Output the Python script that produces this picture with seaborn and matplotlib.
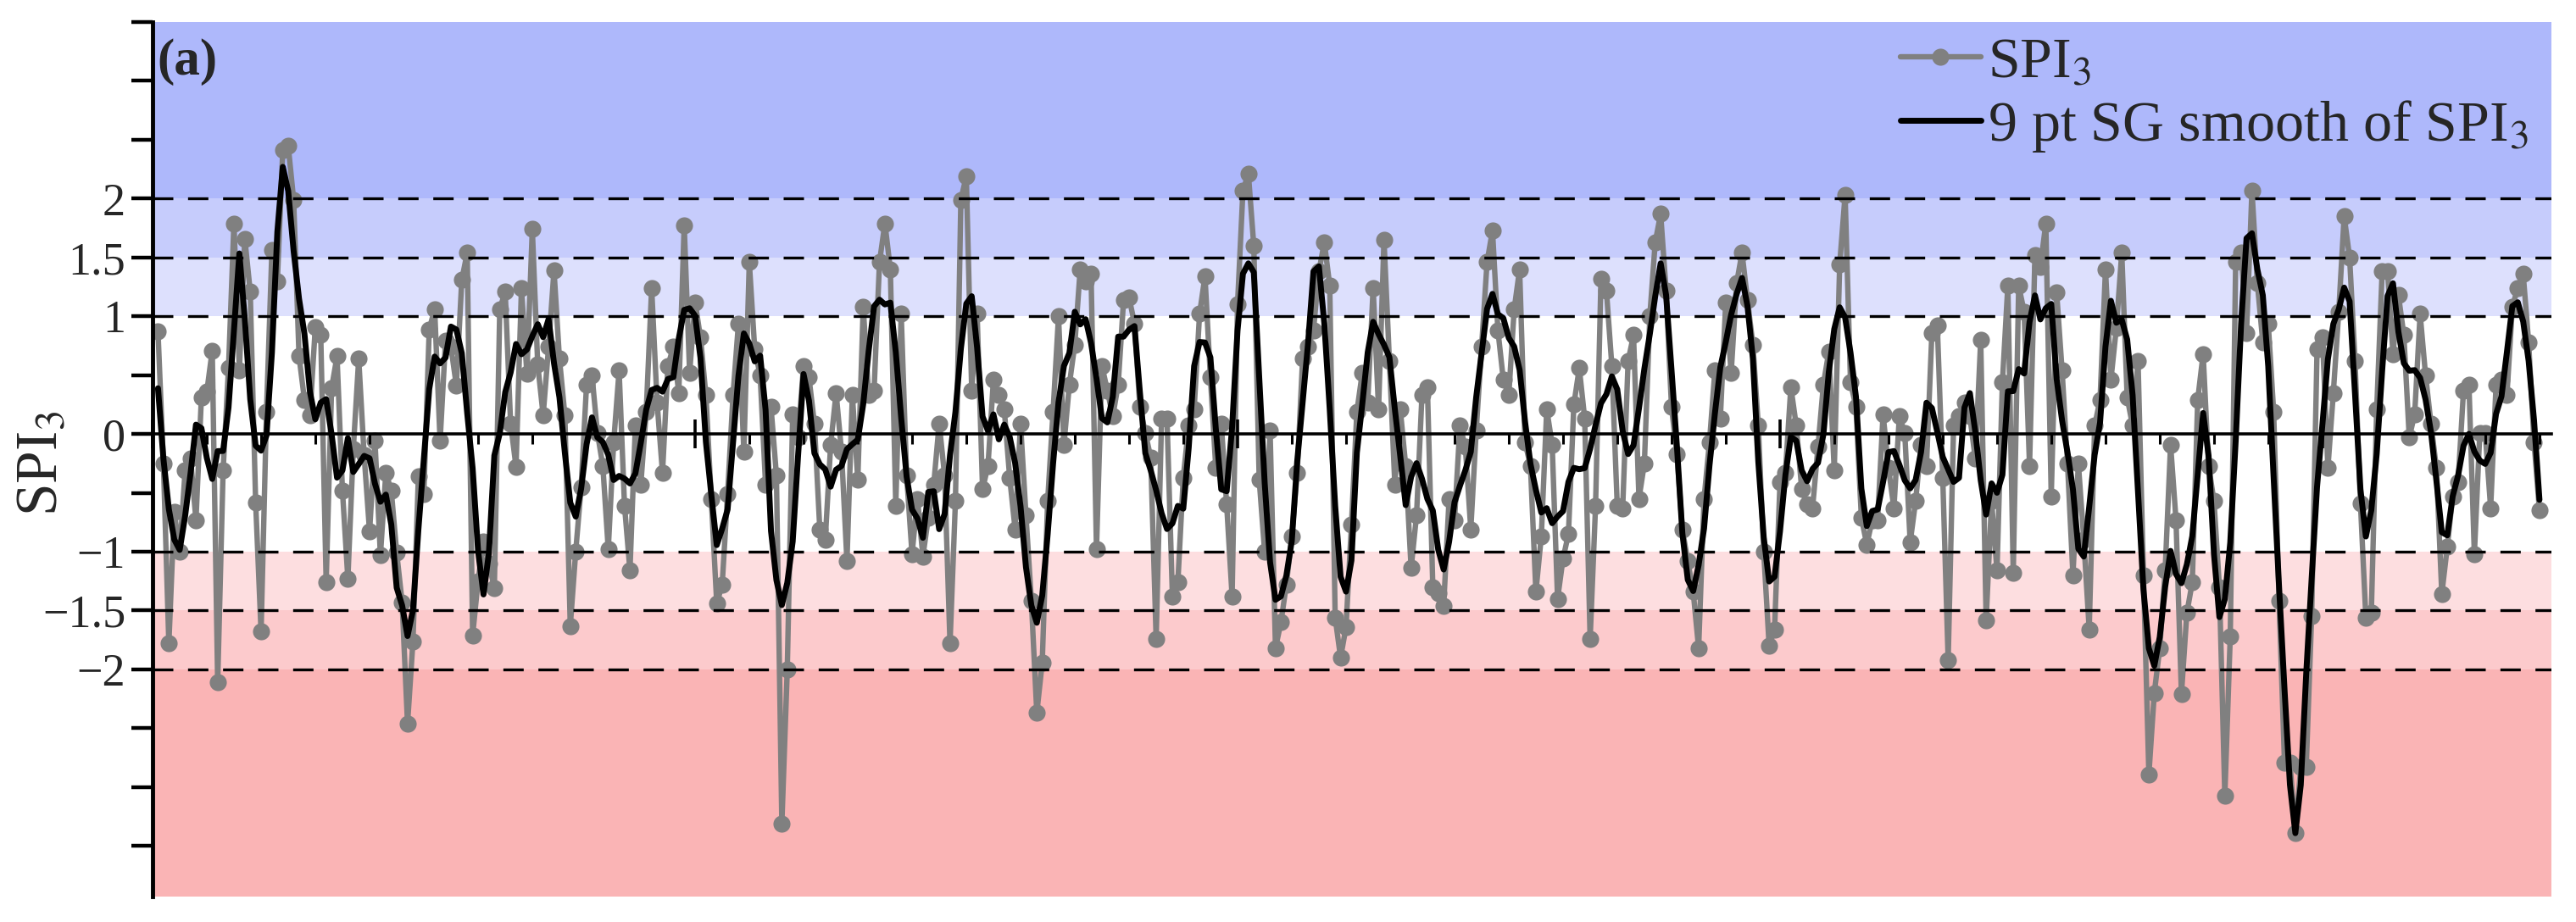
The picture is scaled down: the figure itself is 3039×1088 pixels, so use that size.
import numpy as np
import pandas as pd
import matplotlib
matplotlib.use("Agg")
import matplotlib.pyplot as plt
from matplotlib.ticker import MultipleLocator, FixedLocator, FixedFormatter
import seaborn as sns

# ---------------- data ----------------
spi3_part1 = [0.87, -0.25, -1.78, -0.66, -1.0, -0.31, -0.21, -0.73, 0.31, 0.36,
              0.71, -2.11, -0.31, 0.56, 1.79, 0.54, 1.66, 1.21, -0.58, -1.68,
              0.19, 1.56, 1.3, 2.41, 2.45, 1.99, 0.66, 0.29, 0.16, 0.91,
              0.84, -1.26, 0.39, 0.66, -0.48, -1.23, -0.13, 0.64, -0.18, -0.83,
              -0.06, -1.03, -0.33, -0.48, -1.01, -1.43, -2.46, -1.76, -0.36, -0.51,
              0.89, 1.06, -0.06, 0.79, 0.74, 0.41, 1.31, 1.54, -1.71, -1.25,
              -0.91, -1.1, -1.31, 1.06, 1.21, 0.09, -0.28, 1.24, 0.51, 1.74,
              0.59, 0.16, 0.74, 1.39, 0.64, 0.16, -1.63]
spi3_part2 = [-1.0, -0.45, 0.42, 0.5, 0.01, -0.27, -0.98, -0.07, 0.54, -0.61,
              -1.16, 0.07, -0.43, 0.19, 1.24, 0.27, -0.33, 0.58, 0.74, 0.35,
              1.77, 0.52, 1.12, 0.82, 0.33, -0.55, -1.44, -1.28, -0.51, 0.33,
              0.94, -0.15, 1.46]
spi3_part3 = [0.72, 0.5, -0.43, 0.23, -0.35, -3.31, -2.0, 0.17, -0.03, 0.58,
              0.48, 0.09, -0.81, -0.9, -0.09, 0.35, -0.15, -1.08, 0.33, -0.39,
              1.08, 0.33, 0.37, 1.46, 1.79, 1.4, -0.61, 1.02, -0.35, -1.02,
              -0.55, -1.04, -0.71, -0.43, 0.09, -0.35, -1.78, -0.57, 1.99, 2.19,
              0.37, 1.02, -0.47, -0.27, 0.46, 0.33, 0.21, -0.37, -0.81, 0.09,
              -0.69, -1.42, -2.37, -1.94, -0.57, 0.19, 1.0]
spi3_part4 = [-0.09, 0.42, 0.76, 1.4, 1.3, 1.36, -0.98, 0.58, 0.37, 0.15,
              0.42, 1.14, 1.16, 0.94, 0.23, 0.01, -0.2, -1.74, 0.13, 0.13,
              -1.38, -1.26, -0.37, 0.07, 0.21, 1.02, 1.34, 0.48, -0.29, 0.09,
              -0.6, -1.38, 1.1, 2.07, 2.21, 1.6, -0.39, -1.0, 0.03, -1.82,
              -1.6, -1.28, -0.87, -0.33, 0.64, 0.74, 0.88, 1.38, 1.63, 1.26,
              -1.56, -1.9, -1.64, -0.77, 0.19, 0.52, 0.27, 1.24]
spi3_part5 = [0.21, 1.65, 0.62, -0.43, 0.21, -0.27, -1.14, -0.69, 0.33, 0.4,
              -1.3, -1.35, -1.46, -0.55, -0.73, 0.07, -0.11, -0.81, 0.03, 0.74,
              1.46, 1.73, 0.88, 0.46, 0.33, 1.06, 1.4, -0.07, -0.27, -1.34,
              -0.87, 0.21, -0.09, -1.4, -1.06, -0.85, 0.25, 0.56, 0.13, -1.74,
              -0.61, 1.32, 1.22, 0.58, -0.61, -0.63, 0.62, 0.84, -0.55, -0.25,
              1.0, 1.63, 1.87, 1.22, 0.23, -0.17, -0.81, -1.08, -1.34]
spi3_part6 = [-1.82, -0.55, -0.07, 0.54, 0.13, 1.12, 0.52, 1.28, 1.54, 1.14,
              0.76, 0.07, -1.0, -1.8, -1.66, -0.41, -0.33, 0.4, 0.07, -0.47,
              -0.6, -0.63, -0.11, 0.42, 0.7, -0.31, 1.44, 2.03, 0.44, 0.23,
              -0.71, -0.94, -0.73, -0.73, 0.17, -0.29, -0.63, 0.15, 0.01, -0.92,
              -0.57, -0.09, -0.27, 0.86, 0.92, -0.37, -1.92, 0.07, 0.15, 0.27,
              0.15, -0.21, 0.8, -1.58, -0.57, -1.16, 0.44, 1.26]
spi3_part7 = [-1.18, 1.26, 1.04, -0.27, 1.52, 1.42, 1.79, -0.53, 1.2, 0.54,
              -0.25, -1.2, -0.25, -0.9, -1.66, 0.07, 0.29, 1.4, 0.46, 0.9,
              1.54, 0.31, 0.07, 0.62, -1.2, -2.89, -2.2, -1.82, -1.16, -0.09,
              -0.73, -2.21, -1.52, -1.26, 0.29, 0.68, -0.27, -0.57, -1.3, -3.07,
              -1.72, 1.46, 1.54, 0.86, 2.07, 1.28, 0.78, 0.94, 0.19, -1.42,
              -2.79, -2.79, -3.39, -2.83, -2.83, -1.55, 0.72, 0.82, -0.29]
spi3_part8 = [0.35, 1.04, 1.85, 1.5, 0.62, -0.59, -1.56, -1.52, 0.21, 1.38,
              1.38, 0.68, 1.18, 0.84, -0.03, 0.17, 1.02, 0.5, 0.09, -0.29,
              -1.36, -0.96, -0.53, -0.41, 0.37, 0.42, -1.02, 0.01, 0.01, -0.63,
              0.42, 0.46, 0.33, 1.08, 1.24, 1.36, 0.78, -0.07, -0.65]

band_edges = [-1, -1.5, -2, 1, 1.5, 2]
ytick_values = [-2, -1.5, -1, 0, 1, 1.5, 2]
ytick_texts = ["\u22122", "\u22121.5", "\u22121", "0", "1", "1.5", "2"]
legend_labels = [r"SPI$_3$", r"9 pt SG smooth of SPI$_3$"]
ylabel_text = r"SPI$_3$"
panel_text = "(a)"

spi3 = np.array(spi3_part1 + spi3_part2 + spi3_part3 + spi3_part4 +
                spi3_part5 + spi3_part6 + spi3_part7 + spi3_part8)
index = np.arange(1, len(spi3) + 1)


def savgol_smooth(y, window=9, order=2):
    half = window // 2
    offs = np.arange(-half, half + 1)
    A = np.vander(offs, order + 1, increasing=True)
    coeffs = np.linalg.pinv(A)[0]
    mid = np.convolve(y, coeffs[::-1], mode="valid")
    pos = np.arange(window)
    head = np.polyval(np.polyfit(pos, y[:window], order), pos[:half])
    tail = np.polyval(np.polyfit(pos, y[-window:], order), pos[window - half:])
    return np.concatenate([head, mid, tail])


smooth = savgol_smooth(spi3)
df = pd.DataFrame({"index": index, "SPI3": spi3, "smooth": smooth})

# ---------------- style ----------------
sns.set_style("white")
plt.rcParams["font.family"] = ["Liberation Serif", "DejaVu Serif"]
plt.rcParams["mathtext.fontset"] = "stix"
plt.rcParams["axes.unicode_minus"] = True

fig = plt.figure(figsize=(30.39, 10.88), dpi=100)
ax = fig.add_axes([0.05923, 0.02757, 0.93122, 0.94853])
ax.set_axisbelow(False)

ymin, ymax = -3.93, 3.5
xmin, xmax = 0, 442.2
ax.set_xlim(xmin, xmax)
ax.set_ylim(ymin, ymax)

# background bands
ax.axhspan(2, ymax, color="#AEB8FB", lw=0, zorder=0)
ax.axhspan(1.5, 2, color="#C6CCFC", lw=0, zorder=0)
ax.axhspan(1, 1.5, color="#DDE0FD", lw=0, zorder=0)
ax.axhspan(-1.5, -1, color="#FDDEE0", lw=0, zorder=0)
ax.axhspan(-2, -1.5, color="#FCCACC", lw=0, zorder=0)
ax.axhspan(ymin, -2, color="#FAB4B5", lw=0, zorder=0)

# series
sns.lineplot(data=df, x="index", y="SPI3", ax=ax, color="#808080", lw=4.6,
             marker="o", markersize=14.5, markeredgewidth=0, estimator=None,
             sort=False, zorder=2, label=legend_labels[0])
sns.lineplot(data=df, x="index", y="smooth", ax=ax, color="black", lw=5.0,
             estimator=None, sort=False, zorder=4, label=legend_labels[1])

for v in band_edges:
    ax.axhline(v, color="black", lw=2.4, ls=(0, (7.2, 5.2)), zorder=3)

# spines
for s in ["top", "right"]:
    ax.spines[s].set_visible(False)
ax.spines["bottom"].set_position(("data", 0))
ax.spines["bottom"].set_linewidth(2.6)
ax.spines["left"].set_linewidth(3.5)
ax.spines["left"].set_color("black")
ax.spines["bottom"].set_color("black")

# x ticks on the zero line, no labels
ax.xaxis.set_major_locator(MultipleLocator(100))
ax.xaxis.set_minor_locator(MultipleLocator(10))
ax.tick_params(axis="x", which="major", direction="inout", length=24,
               width=2.6, color="black", labelbottom=False, bottom=True)
ax.tick_params(axis="x", which="minor", direction="out", length=8.5,
               width=2.2, color="black", bottom=True)
ax.set_xlabel("")

# y ticks every 0.5, labels only at selected values
ax.yaxis.set_major_locator(FixedLocator(np.arange(-3.5, 3.51, 0.5)))
lab_map = {round(v, 2): t for v, t in zip(ytick_values, ytick_texts)}
ax.yaxis.set_major_formatter(FixedFormatter(
    [lab_map.get(round(v, 2), "") for v in np.arange(-3.5, 3.51, 0.5)]))
ax.tick_params(axis="y", which="major", direction="out", length=18,
               width=3.2, color="black", labelsize=39, pad=5, left=True)
ax.set_ylabel(ylabel_text, fontsize=50)
ax.yaxis.set_label_coords(-0.0346, 0.495)

ax.text(0.0018, 0.954, panel_text, transform=ax.transAxes, fontsize=44,
        fontweight="bold", ha="left", va="center", zorder=6)

handles, labels = ax.get_legend_handles_labels()
leg = ax.legend(handles, labels, loc="upper right",
                bbox_to_anchor=(0.994, 0.993), frameon=False, fontsize=49,
                handlelength=1.4, handletextpad=0.12, labelspacing=0.16,
                borderpad=0.15, borderaxespad=0)
leg.set_zorder(7)

fig.savefig("out.png", dpi=100)
